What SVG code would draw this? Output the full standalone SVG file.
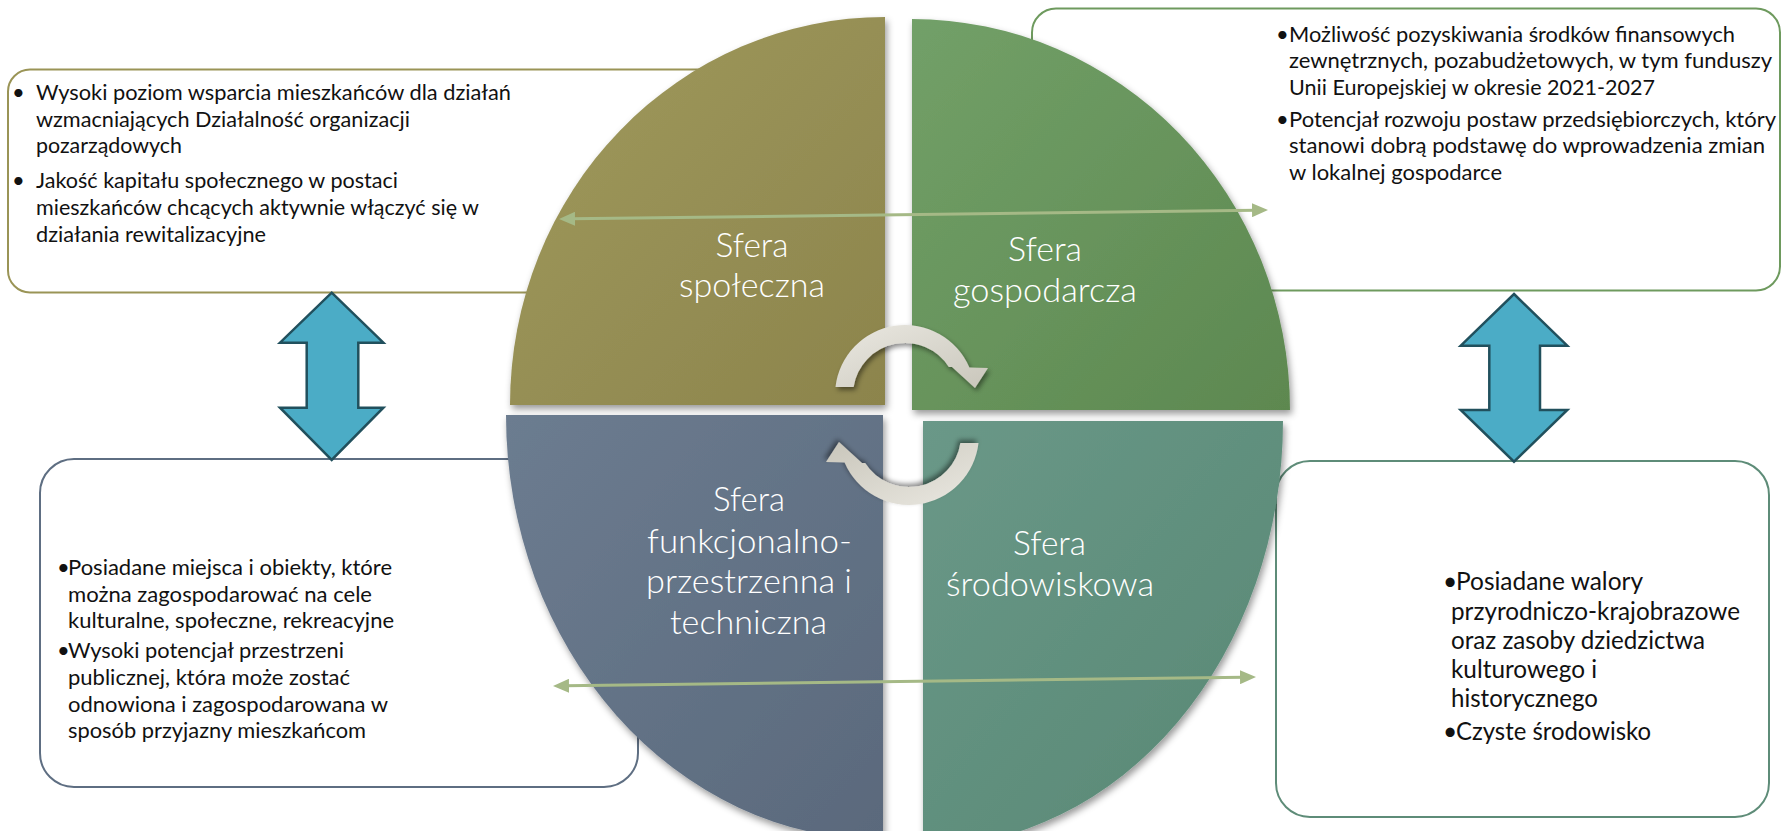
<svg xmlns="http://www.w3.org/2000/svg" width="1783" height="831" viewBox="0 0 1783 831">
<style>
.box{fill:#fff;stroke-width:2}
.t{font-family:Lato,'Noto Sans','DejaVu Sans',sans-serif;font-size:22px;fill:#111}
.tb{font-family:Lato,'Noto Sans','DejaVu Sans',sans-serif;font-size:24.5px;fill:#111}
.lbl{font-family:Lato,'Noto Sans','DejaVu Sans',sans-serif;font-weight:300;font-size:33px;fill:#fff;text-anchor:middle}
.link{stroke:#A5B986;stroke-width:3;fill:none;marker-start:url(#ah);marker-end:url(#ah)}
.dbl{fill:#4BACC6;stroke:#21505D;stroke-width:2.5;stroke-linejoin:miter}
.cyc{fill:url(#gCyc);filter:url(#shC)}
</style>
<defs>
<linearGradient id="gSoc" x1="0" y1="0" x2="1" y2="1"><stop offset="0" stop-color="#A09A5D"/><stop offset="1" stop-color="#8C844C"/></linearGradient>
<linearGradient id="gEco" x1="0" y1="0" x2="1" y2="1"><stop offset="0" stop-color="#72A068"/><stop offset="1" stop-color="#5D8850"/></linearGradient>
<linearGradient id="gFun" x1="0" y1="0" x2="1" y2="1"><stop offset="0" stop-color="#6C7C90"/><stop offset="1" stop-color="#5A697C"/></linearGradient>
<linearGradient id="gEnv" x1="0" y1="0" x2="1" y2="1"><stop offset="0" stop-color="#6A9888"/><stop offset="1" stop-color="#578773"/></linearGradient>
<linearGradient id="gCyc" x1="0" y1="0" x2="1" y2="1"><stop offset="0" stop-color="#EAE8E1"/><stop offset="1" stop-color="#C9C6BB"/></linearGradient>
<filter id="sh" x="-10%" y="-10%" width="125%" height="125%"><feDropShadow dx="2" dy="4" stdDeviation="3.5" flood-color="#000" flood-opacity="0.4"/></filter>
<filter id="shC" x="-20%" y="-20%" width="150%" height="150%"><feDropShadow dx="2" dy="3" stdDeviation="2.5" flood-color="#000" flood-opacity="0.45"/></filter>
<marker id="ah" viewBox="0 0 16 14" refX="4" refY="7" markerWidth="16" markerHeight="14" markerUnits="userSpaceOnUse" orient="auto-start-reverse"><path d="M0,0 L16,7 L0,14 Z" fill="#A5B986"/></marker>
</defs>

<g id="box-spoleczna">
<rect class="box" x="8" y="69.5" width="720" height="223" rx="22" stroke="#9A9456"/>
<text class="t" x="12" y="100">•</text>
<text class="t" x="36" y="100" textLength="475" lengthAdjust="spacingAndGlyphs">Wysoki poziom wsparcia mieszkańców dla działań</text>
<text class="t" x="36" y="127" textLength="374" lengthAdjust="spacingAndGlyphs">wzmacniających Działalność organizacji</text>
<text class="t" x="36" y="153" textLength="146" lengthAdjust="spacingAndGlyphs">pozarządowych</text>
<text class="t" x="12" y="188">•</text>
<text class="t" x="36" y="188" textLength="362" lengthAdjust="spacingAndGlyphs">Jakość kapitału społecznego w postaci</text>
<text class="t" x="36" y="215" textLength="443" lengthAdjust="spacingAndGlyphs">mieszkańców chcących aktywnie włączyć się w</text>
<text class="t" x="36" y="242" textLength="230" lengthAdjust="spacingAndGlyphs">działania rewitalizacyjne</text>
</g>

<g id="box-gospodarcza">
<rect class="box" x="1032" y="8.5" width="748" height="282" rx="24" stroke="#6E9A5E"/>
<text class="t" x="1276" y="42">•</text>
<text class="t" x="1289" y="42" textLength="446" lengthAdjust="spacingAndGlyphs">Możliwość pozyskiwania środków finansowych</text>
<text class="t" x="1289" y="68" textLength="483" lengthAdjust="spacingAndGlyphs">zewnętrznych, pozabudżetowych, w tym funduszy</text>
<text class="t" x="1289" y="95" textLength="366" lengthAdjust="spacingAndGlyphs">Unii Europejskiej w okresie 2021-2027</text>
<text class="t" x="1276" y="127">•</text>
<text class="t" x="1289" y="127" textLength="487" lengthAdjust="spacingAndGlyphs">Potencjał rozwoju postaw przedsiębiorczych, który</text>
<text class="t" x="1289" y="153" textLength="476" lengthAdjust="spacingAndGlyphs">stanowi dobrą podstawę do wprowadzenia zmian</text>
<text class="t" x="1289" y="180" textLength="213" lengthAdjust="spacingAndGlyphs">w lokalnej gospodarce</text>
</g>

<g id="box-funkcjonalna">
<rect class="box" x="40" y="459" width="598" height="328" rx="34" stroke="#5E6E82"/>
<text class="t" x="57" y="575">•</text>
<text class="t" x="68" y="575" textLength="324" lengthAdjust="spacingAndGlyphs">Posiadane miejsca i obiekty, które</text>
<text class="t" x="68" y="602" textLength="304" lengthAdjust="spacingAndGlyphs">można zagospodarować na cele</text>
<text class="t" x="68" y="628" textLength="326" lengthAdjust="spacingAndGlyphs">kulturalne, społeczne, rekreacyjne</text>
<text class="t" x="57" y="658">•</text>
<text class="t" x="68" y="658" textLength="276" lengthAdjust="spacingAndGlyphs">Wysoki potencjał przestrzeni</text>
<text class="t" x="68" y="685" textLength="282" lengthAdjust="spacingAndGlyphs">publicznej, która może zostać</text>
<text class="t" x="68" y="712" textLength="320" lengthAdjust="spacingAndGlyphs">odnowiona i zagospodarowana w</text>
<text class="t" x="68" y="738" textLength="298" lengthAdjust="spacingAndGlyphs">sposób przyjazny mieszkańcom</text>
</g>

<g id="box-srodowiskowa">
<rect class="box" x="1276" y="461" width="493" height="356" rx="34" stroke="#5E8C78"/>
<text class="tb" x="1443" y="590">•</text>
<text class="tb" x="1456" y="590" textLength="187" lengthAdjust="spacingAndGlyphs">Posiadane walory</text>
<text class="tb" x="1451" y="620" textLength="289" lengthAdjust="spacingAndGlyphs">przyrodniczo-krajobrazowe</text>
<text class="tb" x="1451" y="649" textLength="254" lengthAdjust="spacingAndGlyphs">oraz zasoby dziedzictwa</text>
<text class="tb" x="1451" y="678" textLength="146" lengthAdjust="spacingAndGlyphs">kulturowego i</text>
<text class="tb" x="1451" y="707" textLength="147" lengthAdjust="spacingAndGlyphs">historycznego</text>
<text class="tb" x="1443" y="740">•</text>
<text class="tb" x="1456" y="740" textLength="195" lengthAdjust="spacingAndGlyphs">Czyste środowisko</text>
</g>

<g id="sfera-spoleczna">
<path d="M885,405 L510,405 A375,388 0 0 1 885,17 Z" fill="url(#gSoc)" filter="url(#sh)"/>
<text class="lbl" x="752" y="257" textLength="73" lengthAdjust="spacingAndGlyphs">Sfera</text>
<text class="lbl" x="752" y="297" textLength="146" lengthAdjust="spacingAndGlyphs">społeczna</text>
</g>

<g id="sfera-gospodarcza">
<path d="M912,410 L912,19 A378,391 0 0 1 1290,410 Z" fill="url(#gEco)" filter="url(#sh)"/>
<text class="lbl" x="1045" y="261" textLength="74" lengthAdjust="spacingAndGlyphs">Sfera</text>
<text class="lbl" x="1045" y="302" textLength="184" lengthAdjust="spacingAndGlyphs">gospodarcza</text>
</g>

<g id="sfera-funkcjonalna">
<path d="M883,415 L883,840 A377,425 0 0 1 506,415 Z" fill="url(#gFun)" filter="url(#sh)"/>
<text class="lbl" x="749" y="511" textLength="72" lengthAdjust="spacingAndGlyphs">Sfera</text>
<text class="lbl" x="749.5" y="553" textLength="205" lengthAdjust="spacingAndGlyphs">funkcjonalno-</text>
<text class="lbl" x="749" y="593" textLength="206" lengthAdjust="spacingAndGlyphs">przestrzenna i</text>
<text class="lbl" x="748.5" y="634" textLength="157" lengthAdjust="spacingAndGlyphs">techniczna</text>
</g>

<g id="sfera-srodowiskowa">
<path d="M923,421 L1283,421 A360,426 0 0 1 923,847 Z" fill="url(#gEnv)" filter="url(#sh)"/>
<text class="lbl" x="1049.5" y="555" textLength="73" lengthAdjust="spacingAndGlyphs">Sfera</text>
<text class="lbl" x="1050" y="596" textLength="208" lengthAdjust="spacingAndGlyphs">środowiskowa</text>
</g>

<g id="connectors">
<line class="link" x1="571" y1="218.85" x2="1256" y2="210.15"/>
<line class="link" x1="565" y1="685.85" x2="1244" y2="677.15"/>
<path class="dbl" d="M331.7,292.7 L383.4,342.7 L358.3,342.7 L358.3,407.7 L383.4,407.7 L331.7,460 L280,407.7 L306.7,407.7 L306.7,342.7 L280,342.7 Z"/>
<path class="dbl" d="M1514,294 L1567.3,345.7 L1540,345.7 L1540,410 L1567.3,410 L1514,461.7 L1460.7,410 L1489.3,410 L1489.3,345.7 L1460.7,345.7 Z"/>
<path class="cyc" d="M835.5,387 A70,70 0 0 1 969.4,367.5 L988,368 L975,388 L952,367 L948.8,367 A52,52 0 0 0 853.6,387 Z"/>
<path class="cyc" transform="rotate(180 907 415)" d="M835.5,387 A70,70 0 0 1 969.4,367.5 L988,368 L975,388 L952,367 L948.8,367 A52,52 0 0 0 853.6,387 Z"/>
</g>
</svg>
